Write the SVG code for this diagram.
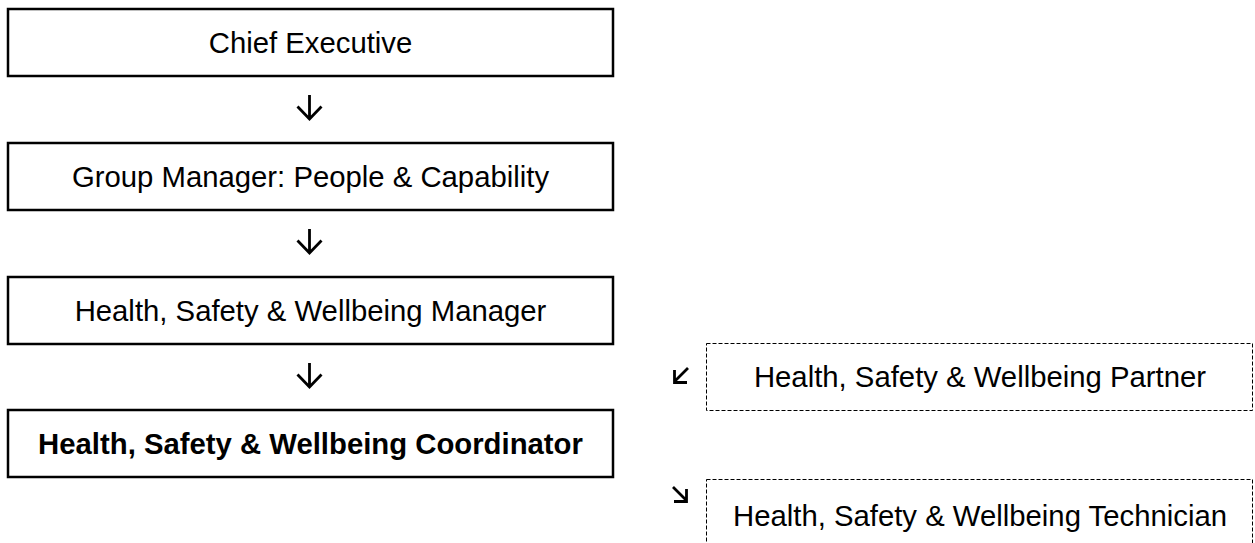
<svg xmlns="http://www.w3.org/2000/svg" width="1255" height="543" viewBox="0 0 1255 543">
<style>
.box{fill:#fff;stroke:#000;stroke-width:2.5}
.dbox{fill:#fff;stroke:#000;stroke-width:1;stroke-dasharray:4 2}
.t{font-family:"Liberation Sans",Arial,sans-serif;font-size:29.3px;fill:#000;text-anchor:middle}
.b{font-weight:bold}
.arr{fill:none;stroke:#000;stroke-width:2.8;stroke-linecap:butt;stroke-linejoin:miter}
</style>
<rect width="1255" height="543" fill="#fff"/>
<g id="connectors">
<path class="arr" d="M309.5 95V118M297.5 106.5L309.5 119L321.5 106.5"/>
<path class="arr" d="M309.5 229V252M297.5 240.5L309.5 253L321.5 240.5"/>
<path class="arr" d="M309.5 363V386M297.5 374.5L309.5 387L321.5 374.5"/>
<path class="arr" d="M688 368L675 381M674.5 370V382.5H687"/>
<path class="arr" d="M673 487L686 500M686.5 489V501.5H674"/>
</g>
<g id="n1"><rect class="box" x="8" y="9" width="605" height="67"/><text class="t" x="310.5" y="53">Chief Executive</text></g>
<g id="n2"><rect class="box" x="8" y="143" width="605" height="67"/><text class="t" x="310.5" y="187">Group Manager: People &amp; Capability</text></g>
<g id="n3"><rect class="box" x="8" y="277" width="605" height="67"/><text class="t" x="310.5" y="321">Health, Safety &amp; Wellbeing Manager</text></g>
<g id="n4"><rect class="box" x="8" y="410" width="605" height="67"/><text class="t b" x="310.5" y="454">Health, Safety &amp; Wellbeing Coordinator</text></g>
<g id="n5"><rect class="dbox" x="706.5" y="343.5" width="546" height="67"/><text class="t" x="980" y="387">Health, Safety &amp; Wellbeing Partner</text></g>
<g id="n6"><rect class="dbox" x="706.5" y="479.5" width="546" height="70"/><text class="t" x="980" y="526">Health, Safety &amp; Wellbeing Technician</text></g>
</svg>
